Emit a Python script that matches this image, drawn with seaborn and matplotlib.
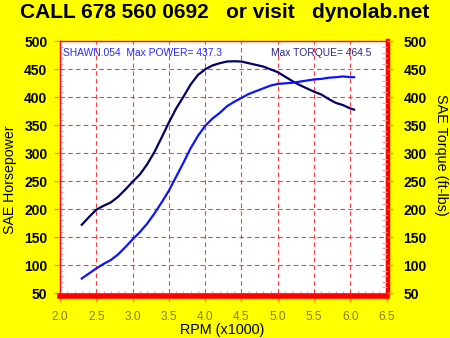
import matplotlib
matplotlib.use("Agg")
import matplotlib.pyplot as plt
from matplotlib.ticker import MultipleLocator
import numpy as np
import pandas as pd
import seaborn as sns

# Dyno run SHAWN.054 (engine speed in thousands of rpm)
rpm = [2.3, 2.4, 2.5, 2.6, 2.7, 2.8, 2.9, 3.0, 3.1, 3.2, 3.3, 3.4, 3.5, 3.6,
       3.7, 3.8, 3.9, 4.0, 4.1, 4.2, 4.3, 4.4, 4.5, 4.6, 4.7, 4.8, 4.9, 5.0,
       5.1, 5.2, 5.3, 5.4, 5.5, 5.6, 5.7, 5.8, 5.9, 6.0, 6.05]
torque = [172, 186, 199, 206, 212, 222, 235, 249, 262, 280, 302, 328, 355, 380,
          401, 423, 440, 450, 457, 461, 464, 464.5, 464, 461, 458, 455, 450, 445,
          437, 429, 422, 416, 410, 405, 397, 390, 386, 380, 378]
horsepower = [76, 85, 94, 102, 109, 119, 132, 146, 159, 174, 192, 212, 233, 258,
              283, 309, 331, 349, 362, 372, 384, 392, 399, 406, 411, 416, 421, 424,
              425, 426, 428, 430, 432, 433, 435, 436, 437.3, 436, 436]

x_ticks = [2.0, 2.5, 3.0, 3.5, 4.0, 4.5, 5.0, 5.5, 6.0, 6.5]
y_ticks = [50, 100, 150, 200, 250, 300, 350, 400, 450, 500]

title_text = "CALL 678 560 0692   or visit   dynolab.net"
run_label = "SHAWN.054  Max POWER= 437.3"
torque_label = "Max TORQUE= 464.5"

df = pd.DataFrame({"rpm": rpm, "torque": torque, "hp": horsepower})

plt.rcParams["font.family"] = ["Liberation Sans", "DejaVu Sans"]

YELLOW = "#ffff00"
RED = "#ff0000"
GRID = "#ff3b3b"
TICK = "#ff9900"
MINOR = "#ff9a9a"

fig = plt.figure(figsize=(4.5, 3.38), dpi=100, facecolor=YELLOW)
ax = fig.add_axes([0.1333, 0.1331, 0.7260, 0.7444])
ax.set_facecolor("white")

sns.lineplot(data=df, x="rpm", y="torque", ax=ax, color="#000066", lw=1.6, zorder=3)
sns.lineplot(data=df, x="rpm", y="hp", ax=ax, color="#0a14ff", lw=1.6, zorder=3)

ax.set_xlim(2.0, 6.5)
ax.set_ylim(50, 500)
ax.set_xticks(x_ticks)
ax.set_yticks(y_ticks)
ax.set_xticklabels([f"{v:.1f}" for v in x_ticks])
ax.set_yticklabels([str(v) for v in y_ticks])
ax.xaxis.set_minor_locator(MultipleLocator(0.1))
ax.yaxis.set_minor_locator(MultipleLocator(10))

ax.grid(True, which="major", color=GRID, ls=(0, (4, 3)), lw=0.8, zorder=1)
ax.set_axisbelow(True)

for side in ("left", "top"):
    ax.spines[side].set_color(RED)
    ax.spines[side].set_linewidth(1.0)
ax.spines["bottom"].set_color(RED)
ax.spines["bottom"].set_linewidth(4.0)
ax.spines["bottom"].set_position(("outward", 2))
ax.spines["right"].set_color(RED)
ax.spines["right"].set_linewidth(3.2)
ax.spines["right"].set_position(("outward", 1))

ax.tick_params(axis="x", which="major", direction="out", length=4, width=1,
               color=TICK, pad=7, labelsize=8.6, labelcolor="#808000")
ax.tick_params(axis="y", which="major", direction="out", length=4, width=1,
               color=TICK, pad=5, labelsize=10)
ax.tick_params(axis="x", which="minor", direction="in", length=3.5, width=0.8,
               color=MINOR)
ax.tick_params(axis="y", which="minor", direction="in", length=2, width=0.8,
               color=MINOR)
for lab in ax.get_yticklabels():
    lab.set_fontweight("bold")

ax.set_xlabel("RPM (x1000)", fontsize=10.4, va="center")
ax.xaxis.set_label_coords(0.497, -0.148)
ax.set_ylabel("SAE Horsepower", fontsize=10.2, va="center")
ax.yaxis.set_label_coords(-0.153, 0.452)

# Torque scale on the right shares the same range
ax2 = ax.twinx()
ax2.set_ylim(50, 500)
ax2.set_yticks(y_ticks)
ax2.set_yticklabels([str(v) for v in y_ticks])
ax2.yaxis.set_minor_locator(MultipleLocator(10))
for side in ("left", "top", "bottom", "right"):
    ax2.spines[side].set_visible(False)
ax2.tick_params(axis="y", which="major", direction="out", length=4, width=1,
                color=TICK, pad=8, labelsize=10)
ax2.tick_params(axis="y", which="minor", direction="in", length=3.5, width=0.8,
                color=MINOR)
for lab in ax2.get_yticklabels():
    lab.set_fontweight("bold")
ax2.set_ylabel("SAE Torque (ft-lbs)", fontsize=10.4, rotation=-90, va="center")
ax2.yaxis.set_label_coords(1.166, 0.548)

ax.text(0.008, 0.975, run_label, transform=ax.transAxes, ha="left", va="top",
        fontsize=7.4, color="#2a2aff", zorder=4)
ax.text(0.647, 0.975, torque_label, transform=ax.transAxes, ha="left", va="top",
        fontsize=7.4, color="#28288a", zorder=4)

fig.text(0.5, 1 - 13 / 338, title_text, ha="center", va="center",
         fontsize=15, fontweight="bold", color="black")

fig.savefig("out.png", dpi=100, facecolor=YELLOW)
